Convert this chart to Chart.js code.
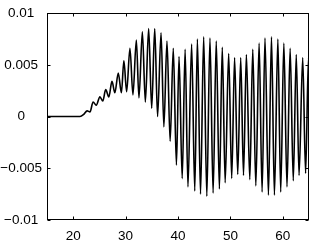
<!DOCTYPE html>
<html><head><meta charset="utf-8">
<script src="https://cdn.jsdelivr.net/npm/chart.js@4"></script>
<style>html,body{margin:0;padding:0;background:#fff;overflow:hidden}#wrap{width:314px;height:241px}</style>
</head><body><div id="wrap"><canvas id="c" width="314" height="241"></canvas></div>
<script>
// Time positions of the waveform's extrema
const timeValues = [15, 21.3, 22.0, 22.66, 23.2, 23.8, 24.4, 25.1, 25.65, 26.2, 26.8, 27.4, 27.95, 28.6, 29.2,
  29.67, 30.2, 30.83, 31.4, 32.05, 32.55, 33.2, 33.77, 34.4, 34.98, 35.56, 36.1, 36.77, 37.3, 37.9, 38.5,
  39.1, 39.7, 40.2, 40.8, 41.36, 41.9, 42.6, 43.2, 43.7, 44.3, 44.9, 45.5, 46.1, 46.7, 47.3, 47.9,
  48.45, 49.0, 49.67, 50.25, 50.8, 51.4, 51.97, 52.5, 53.05, 53.7, 54.27, 54.85, 55.48, 56.05, 56.6, 57.26,
  57.84, 58.4, 59.06, 59.6, 60.2, 60.8, 61.4, 62.0, 62.57, 63.1, 63.8, 64.35, 64.9, 65];
// Signal values at those positions
const signalValues = [0, 0, 0.0002, 0.00055, 0.00045, 0.0014, 0.0011, 0.0019, 0.0015, 0.0026, 0.0019, 0.0034, 0.0023, 0.0042, 0.0023,
  0.0054, 0.0024, 0.0066, 0.0021, 0.0074, 0.0018, 0.0082, 0.0014, 0.0085, 0.0008, 0.0085, 0.0000, 0.0081, -0.0010, 0.0073, -0.0024,
  0.0066, -0.0047, 0.0058, -0.0060, 0.0065, -0.0068, 0.0070, -0.0072, 0.0075, -0.0075, 0.0077, -0.0077, 0.0076, -0.0074, 0.0073, -0.0070,
  0.0067, -0.0064, 0.0061, -0.0060, 0.0057, -0.0056, 0.0057, -0.0057, 0.0060, -0.0061, 0.0065, -0.0067, 0.0071, -0.0073, 0.0076, -0.0076,
  0.0077, -0.0076, 0.0075, -0.0073, 0.0071, -0.0068, 0.0066, -0.0062, 0.0060, -0.0057, 0.0057, -0.0055, 0.0057, 0.0055];
const xTickValues = [20, 30, 40, 50, 60];
const xTickLabels = ['20', '30', '40', '50', '60'];
const yTickValues = [-0.01, -0.005, 0, 0.005, 0.01];
const yTickLabels = ['\u22120.01', '\u22120.005', '0', '0.005', '0.01'];

const FONT = {family: '"Liberation Sans", Arial, Helvetica, sans-serif', size: 13.5};

const framePlugin = {
  id: 'frame',
  afterDatasetsDraw(chart) {
    const {ctx, chartArea: a, scales: {x, y}} = chart;
    ctx.save();
    ctx.strokeStyle = '#000';
    ctx.lineWidth = 1;
    const L = Math.round(a.left) + 0.5, R = Math.round(a.right) - 0.5;
    const T = Math.round(a.top) + 0.5, B = Math.round(a.bottom) - 0.5;
    ctx.strokeRect(L, T, R - L, B - T);
    ctx.beginPath();
    xTickValues.forEach(v => {
      const px = Math.round(x.getPixelForValue(v)) + 0.5;
      ctx.moveTo(px, B); ctx.lineTo(px, B - 3);
      ctx.moveTo(px, T); ctx.lineTo(px, T + 3);
    });
    yTickValues.forEach(v => {
      const py = Math.round(y.getPixelForValue(v)) + 0.5;
      ctx.moveTo(L, py); ctx.lineTo(L + 3, py);
      ctx.moveTo(R, py); ctx.lineTo(R - 3, py);
    });
    ctx.stroke();
    ctx.restore();
  }
};

new Chart(document.getElementById('c'), {
  type: 'line',
  data: {
    datasets: [{
      data: timeValues.map((t, i) => ({x: t, y: signalValues[i]})),
      borderColor: '#000',
      borderWidth: 1.6,
      pointRadius: 0,
      cubicInterpolationMode: 'monotone',
      fill: false
    }]
  },
  options: {
    responsive: false,
    animation: false,
    devicePixelRatio: 1,
    layout: {padding: {top: 13, right: 5, left: 0, bottom: 0}},
    plugins: {legend: {display: false}, tooltip: {enabled: false}},
    scales: {
      x: {
        type: 'linear', min: 15, max: 65,
        grid: {display: false, drawTicks: false},
        border: {display: false},
        ticks: {font: FONT, color: '#000', padding: 8, maxRotation: 0, autoSkip: false,
          callback: (v, i) => xTickLabels[i]},
        afterBuildTicks: s => { s.ticks = xTickValues.map(v => ({value: v})); },
        afterFit: s => { s.height = 21; }
      },
      y: {
        type: 'linear', min: -0.01, max: 0.01,
        grid: {display: false, drawTicks: false},
        border: {display: false},
        ticks: {font: FONT, color: '#000', padding: 5, crossAlign: 'center', autoSkip: false,
          callback: (v, i) => yTickLabels[i]},
        afterBuildTicks: s => { s.ticks = yTickValues.map(v => ({value: v})); },
        afterFit: s => { s.width = 47; }
      }
    }
  },
  plugins: [framePlugin]
});
</script>
</body></html>
